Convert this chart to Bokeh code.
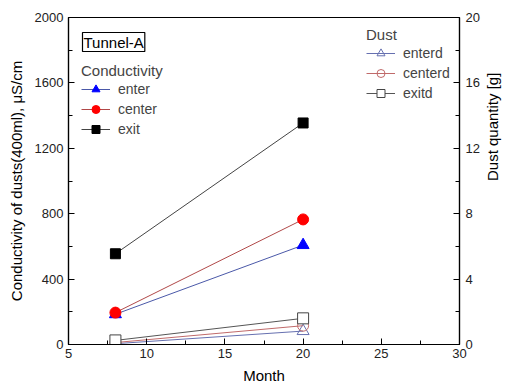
import math
from bokeh.plotting import figure
from bokeh.models import Range1d, LinearAxis, Legend, LegendItem, Label, FixedTicker
from bokeh.embed import file_html
from bokeh.resources import INLINE

months = [8, 20]
enter = [185, 608]
center = [195, 765]
exit_ = [555, 1355]
enterd = [0.05, 0.82]
centerd = [0.12, 1.15]
exitd = [0.25, 1.6]

x_ticks = [5, 10, 15, 20, 25, 30]
y_ticks = [0, 400, 800, 1200, 1600, 2000]
yd_ticks = [0, 4, 8, 12, 16, 20]

FONT = "Liberation Sans"

p = figure(width=512, height=390, output_backend="svg", toolbar_location=None,
           x_range=Range1d(5, 30), y_range=Range1d(0, 2000),
           min_border_left=68, min_border_right=48, min_border_top=17,
           min_border_bottom=46)
p.extra_y_ranges = {"dust": Range1d(0, 20)}
p.xgrid.visible = False
p.ygrid.visible = False
p.outline_line_color = "black"
p.outline_line_width = 1.2
p.background_fill_color = "white"
p.border_fill_color = "white"


def style_axis(ax, ticks, minor):
    ax.ticker = FixedTicker(ticks=ticks, minor_ticks=minor)
    ax.major_tick_in = 6
    ax.major_tick_out = 0
    ax.minor_tick_in = 4
    ax.minor_tick_out = 0
    ax.axis_line_color = "black"
    ax.axis_line_width = 1.2
    ax.major_tick_line_color = "black"
    ax.minor_tick_line_color = "black"
    ax.major_label_text_font = FONT
    ax.major_label_text_font_size = "13px"
    ax.major_label_text_color = "#222222"
    ax.axis_label_text_font = FONT
    ax.axis_label_text_font_size = "15px"
    ax.axis_label_text_font_style = "normal"
    ax.axis_label_text_color = "black"


xa = p.xaxis[0]
style_axis(xa, x_ticks, [7.5, 12.5, 17.5, 22.5, 27.5])
xa.axis_label = "Month"
xa.major_label_standoff = 4
xa.axis_label_standoff = 6

ya = p.yaxis[0]
style_axis(ya, y_ticks, [200, 600, 1000, 1400, 1800])
ya.axis_label = "Conductivity of dusts(400ml), μS/cm"
ya.major_label_standoff = 5
ya.axis_label_standoff = 7

ra = LinearAxis(y_range_name="dust", axis_label="Dust quantity [g]")
style_axis(ra, yd_ticks, [2, 6, 10, 14, 18])
ra.major_label_standoff = 6
ra.axis_label_standoff = 10
ra.axis_label_orientation = math.pi / 2
p.add_layout(ra, "right")

# Conductivity series
l1 = p.line(months, enter, line_color="#4a58a8", line_width=1)
m1 = p.scatter(months, enter, marker="triangle", size=12, fill_color="blue", line_color="blue")
l2 = p.line(months, center, line_color="#b04848", line_width=1)
m2 = p.scatter(months, center, marker="circle", size=11, fill_color="red", line_color="red")
l3 = p.line(months, exit_, line_color="#444444", line_width=1)
m3 = p.scatter(months, exit_, marker="square", size=10, fill_color="black", line_color="black")

# Dust series
d1 = p.line(months, enterd, y_range_name="dust", line_color="#6670b0", line_width=1)
n1 = p.scatter(months, enterd, y_range_name="dust", marker="triangle", size=12,
               fill_color="white", fill_alpha=0, line_color="#6670b0", line_width=1)
d2 = p.line(months, centerd, y_range_name="dust", line_color="#c06a6a", line_width=1)
n2 = p.scatter(months, centerd, y_range_name="dust", marker="circle", size=11,
               fill_color="white", fill_alpha=0, line_color="#c06a6a", line_width=1)
d3 = p.line(months, exitd, y_range_name="dust", line_color="#555555", line_width=1)
n3 = p.scatter(months, exitd, y_range_name="dust", marker="square", size=11,
               fill_color="white", line_color="#444444", line_width=1)


def make_legend(title, items, loc):
    lg = Legend(items=items, location=loc, title=title)
    lg.border_line_color = None
    lg.background_fill_alpha = 0
    lg.padding = 0
    lg.margin = 0
    lg.spacing = 0
    lg.glyph_width = 29
    lg.glyph_height = 20
    lg.label_height = 20
    lg.label_standoff = 8
    lg.title_standoff = 0
    lg.title_text_font = FONT
    lg.title_text_font_size = "15px"
    lg.title_text_font_style = "normal"
    lg.label_text_font = FONT
    lg.label_text_font_size = "14px"
    return lg


leg1 = make_legend("Conductivity", [
    LegendItem(label="enter", renderers=[l1, m1]),
    LegendItem(label="center", renderers=[l2, m2]),
    LegendItem(label="exit", renderers=[l3, m3]),
], (13, 205))
leg2 = make_legend("Dust", [
    LegendItem(label="enterd", renderers=[d1, n1]),
    LegendItem(label="centerd", renderers=[d2, n2]),
    LegendItem(label="exitd", renderers=[d3, n3]),
], (298, 241))
p.add_layout(leg1)
p.add_layout(leg2)

tl = Label(x=14, y=293, x_units="screen", y_units="screen", text="Tunnel-A",
           text_font=FONT, text_font_size="15px", text_color="black",
           border_line_color="black", border_line_width=1.2,
           background_fill_color="white", padding=1)
p.add_layout(tl)

open("out.html", "w").write(file_html(p, INLINE))
